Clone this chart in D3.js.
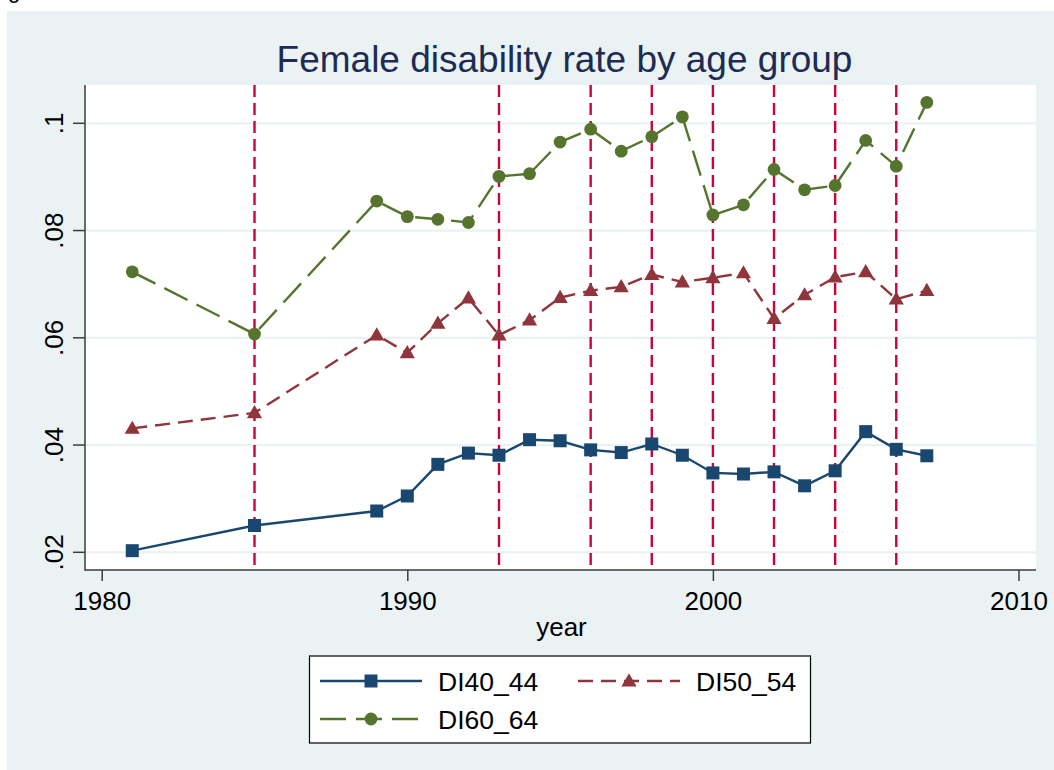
<!DOCTYPE html>
<html>
<head>
<meta charset="utf-8">
<script src="https://cdn.jsdelivr.net/npm/d3@7"></script>
<style>
  html, body { margin: 0; padding: 0; background: #ffffff; }
  svg { display: block; font-family: "Liberation Sans", Arial, Helvetica, sans-serif; }
</style>
</head>
<body>
<svg id="chart" width="1054" height="770"></svg>
<script>
// Survey years
const years = [1981, 1985, 1989, 1990, 1991, 1992, 1993, 1994, 1995, 1996, 1997,
               1998, 1999, 2000, 2001, 2002, 2003, 2004, 2005, 2006, 2007];

// Female disability rates by age group
const di40_44 = [0.0203, 0.0250, 0.0277, 0.0305, 0.0364, 0.0385, 0.0381, 0.0410, 0.0408, 0.0391, 0.0386,
                 0.0402, 0.0381, 0.0348, 0.0346, 0.0350, 0.0324, 0.0352, 0.0425, 0.0392, 0.0380];
const di50_54 = [0.0431, 0.0460, 0.0605, 0.0572, 0.0627, 0.0674, 0.0605, 0.0633, 0.0675, 0.0688, 0.0695,
                 0.0718, 0.0704, 0.0712, 0.0721, 0.0636, 0.0680, 0.0713, 0.0723, 0.0672, 0.0688];
const di60_64 = [0.0723, 0.0607, 0.0855, 0.0826, 0.0821, 0.0815, 0.0901, 0.0906, 0.0965, 0.0989, 0.0948,
                 0.0975, 0.1012, 0.0829, 0.0848, 0.0914, 0.0876, 0.0884, 0.0968, 0.0920, 0.1039];

// Reference years marked with vertical lines
const markYears = [1985, 1993, 1996, 1998, 2000, 2002, 2004, 2006];

// Axis ticks
const xTicks = [1980, 1990, 2000, 2010];
const yTicks = [0.02, 0.04, 0.06, 0.08, 0.1];
const yTickLabels = [".02", ".04", ".06", ".08", ".1"];

const seriesNames = ["DI40_44", "DI50_54", "DI60_64"];

const svg = d3.select("#chart");
const W = 1054, H = 770;

// Graph region and plot region
const outer = { left: 7, top: 11 };
const plot = { left: 85, top: 85, right: 1036, bottom: 570 };

const colors = { bg: "#eaf2f3", navy: "#1a476f", maroon: "#90353b", green: "#55752f",
                 red: "#c8063c", title: "#1e2b52", axis: "#3c3c3c" };

const x = d3.scaleLinear().domain([1980, 2010]).range([101.7, 1018.5]);
const y = d3.scaleLinear().domain([0.02, 0.1]).range([552.3, 123.3]);

// Caption descender peeking in at the top-left
svg.append("text").attr("x", 8).attr("y", -2.5)
  .attr("font-size", 22).attr("fill", "#000").text("g");

svg.append("rect").attr("x", outer.left).attr("y", outer.top)
  .attr("width", W - outer.left).attr("height", H - outer.top).attr("fill", colors.bg);

svg.append("rect").attr("x", plot.left).attr("y", plot.top)
  .attr("width", plot.right - plot.left).attr("height", plot.bottom - plot.top)
  .attr("fill", "#ffffff");

// Horizontal grid
svg.append("g").selectAll("line").data(yTicks).join("line")
  .attr("x1", plot.left).attr("x2", plot.right)
  .attr("y1", d => y(d)).attr("y2", d => y(d))
  .attr("stroke", colors.bg).attr("stroke-width", 2.2);

// Title
svg.append("text").attr("x", 564.5).attr("y", 72)
  .attr("text-anchor", "middle").attr("font-size", 37).attr("fill", colors.title)
  .text("Female disability rate by age group");

// Axes
const yAxis = d3.axisLeft(y).tickValues(yTicks)
  .tickFormat((d, i) => yTickLabels[i]).tickSize(12).tickPadding(8);
const gy = svg.append("g").attr("transform", `translate(${plot.left},0)`).call(yAxis);
gy.select(".domain").remove();
gy.selectAll(".tick line").attr("stroke", colors.axis).attr("stroke-width", 1.5);
gy.selectAll(".tick text")
  .attr("font-size", 26).attr("fill", "#000")
  .attr("font-family", "Liberation Sans, Arial, sans-serif")
  .attr("text-anchor", "middle").attr("dy", null)
  .attr("transform", "rotate(-90)")
  .attr("x", d => -y(d)).attr("y", -22.5);
gy.selectAll(".tick").attr("transform", null);
gy.selectAll(".tick line").attr("y1", d => y(d)).attr("y2", d => y(d)).attr("x1", -12).attr("x2", 0);

const xAxis = d3.axisBottom(x).tickValues(xTicks).tickFormat(d3.format("d"))
  .tickSize(11).tickPadding(10);
const gx = svg.append("g").attr("transform", `translate(0,${plot.bottom})`).call(xAxis);
gx.select(".domain").remove();
gx.selectAll(".tick line").attr("stroke", colors.axis).attr("stroke-width", 1.5);
gx.selectAll(".tick text").attr("font-size", 26).attr("fill", "#000")
  .attr("font-family", "Liberation Sans, Arial, sans-serif")
  .attr("dy", null).attr("y", 39.5);

// Axis lines
svg.append("line").attr("x1", plot.left).attr("x2", plot.left)
  .attr("y1", plot.top).attr("y2", plot.bottom + 0.75)
  .attr("stroke", colors.axis).attr("stroke-width", 1.5);
svg.append("line").attr("x1", plot.left).attr("x2", plot.right)
  .attr("y1", plot.bottom).attr("y2", plot.bottom)
  .attr("stroke", colors.axis).attr("stroke-width", 1.5);

svg.append("text").attr("x", 561.5).attr("y", 636)
  .attr("text-anchor", "middle").attr("font-size", 26).attr("fill", "#000").text("year");

// Vertical reference lines
svg.append("g").selectAll("line").data(markYears).join("line")
  .attr("x1", d => x(d)).attr("x2", d => x(d))
  .attr("y1", plot.top).attr("y2", plot.bottom)
  .attr("stroke", colors.red).attr("stroke-width", 2.4)
  .attr("stroke-dasharray", "12,6");

// Series
const series = [
  { name: seriesNames[0], values: di40_44, color: colors.navy, dash: null, marker: "square" },
  { name: seriesNames[1], values: di50_54, color: colors.maroon, dash: "15,8", marker: "triangle" },
  { name: seriesNames[2], values: di60_64, color: colors.green, dash: "26,10", marker: "circle" }
];

const line = d3.line().x(d => x(d[0])).y(d => y(d[1]));

function drawMarker(g, kind, cx, cy, color) {
  if (kind === "square") {
    g.append("rect").attr("x", cx - 6.5).attr("y", cy - 6.5).attr("width", 13).attr("height", 13)
      .attr("fill", color);
  } else if (kind === "circle") {
    g.append("circle").attr("cx", cx).attr("cy", cy).attr("r", 6.4).attr("fill", color);
  } else {
    const s = d3.symbol().type(d3.symbolTriangle).size(100);
    g.append("path").attr("d", s()).attr("transform", `translate(${cx},${cy + 1})`).attr("fill", color);
  }
}

series.forEach(s => {
  const pts = years.map((yr, i) => [yr, s.values[i]]);
  const g = svg.append("g");
  g.append("path").datum(pts).attr("d", line)
    .attr("fill", "none").attr("stroke", s.color).attr("stroke-width", 2.4)
    .attr("stroke-dasharray", s.dash);
  pts.forEach(p => drawMarker(g, s.marker, x(p[0]), y(p[1]), s.color));
});

// Legend
const lg = svg.append("g");
lg.append("rect").attr("x", 309.5).attr("y", 656).attr("width", 501).attr("height", 87)
  .attr("fill", "#ffffff").attr("stroke", "#000").attr("stroke-width", 1.2);
const legendPos = [
  { x1: 320, x2: 422, ty: 681, tx: 438 },
  { x1: 578, x2: 680, ty: 681, tx: 696 },
  { x1: 320, x2: 422, ty: 719, tx: 438 }
];
series.forEach((s, i) => {
  const p = legendPos[i];
  lg.append("line").attr("x1", p.x1).attr("x2", p.x2).attr("y1", p.ty).attr("y2", p.ty)
    .attr("stroke", s.color).attr("stroke-width", 2.4).attr("stroke-dasharray", s.dash);
  drawMarker(lg, s.marker, (p.x1 + p.x2) / 2, p.ty, s.color);
  lg.append("text").attr("x", p.tx).attr("y", p.ty + 10).attr("font-size", 26.5)
    .attr("fill", "#000").text(s.name);
});
</script>
</body>
</html>
